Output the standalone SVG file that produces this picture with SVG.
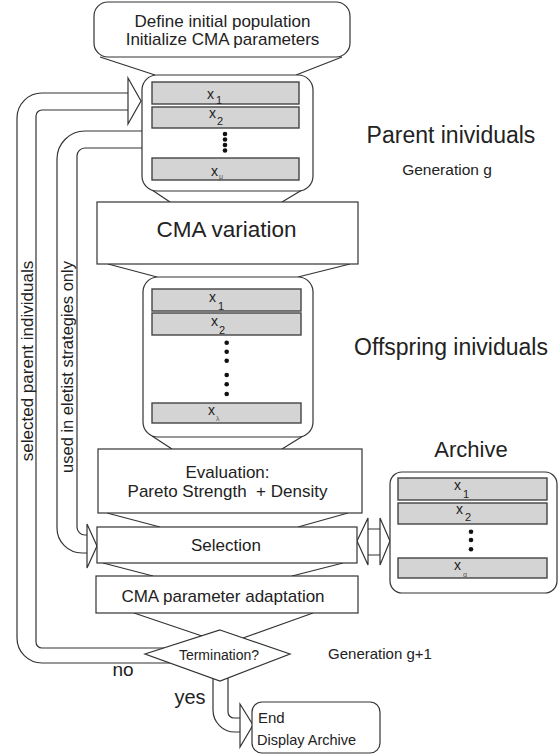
<svg xmlns="http://www.w3.org/2000/svg" width="560" height="755" viewBox="0 0 560 755">
<style>
.box{fill:#fff;stroke:#333;stroke-width:1.2}
.item{fill:#d4d4d4;stroke:#444;stroke-width:1.4}
.ln{fill:none;stroke:#333;stroke-width:1.2}
.ah{fill:#fff;stroke:#333;stroke-width:1.2}
.dot{fill:#111}
text{font-family:"Liberation Sans",Arial,sans-serif;fill:#222}
.c{text-anchor:middle}
.xs{font-size:14px}
.sub{font-size:11px}
.tiny{font-size:7px;fill:#555}
</style>
<rect width="560" height="755" fill="#fff"/>
<g id="connectors">
<path class="ln" d="M100,57 L155,75 M342,57 L296,75"/>
<path class="ln" d="M152,190 L170,202 M302,190 L282,202"/>
<path class="ln" d="M108,264 L157,277 M350,264 L298,277"/>
<path class="ln" d="M152,436 L172,449 M303,436 L282,449"/>
<path class="ln" d="M107,513 L160,527 M348,513 L298,527"/>
<path class="ln" d="M103,563 L153,576 M343,563 L292,576"/>
<path class="ln" d="M134,613 L202,636 M313,613 L243,638"/>
<path class="ln" d="M170,663 H42 A25 25 0 0 1 17,638 V118 A25 25 0 0 1 42,93 H128"/>
<path class="ln" d="M164,648 H42 A6 6 0 0 1 36,642 V116 A6 6 0 0 1 42,110 H128"/>
<polygon class="ah" points="128,78 141,101 128,124"/>
<path class="ln" d="M142,131 H85 A28 28 0 0 0 57,159 V528 A25 25 0 0 0 82,553 H87"/>
<path class="ln" d="M142,148 H85 A8 8 0 0 0 77,156 V527 A8 8 0 0 0 85,535 H87"/>
<polygon class="ah" points="87,524 97,546 87,568"/>
<path class="ln" d="M368,529 H380 M368,555 H380"/>
<polygon class="ah" points="368,518 357,541 368,565"/>
<polygon class="ah" points="380,518 390,541 380,565"/>
<path class="ln" d="M213,678.5 V710 A22 22 0 0 0 235,732 H240"/>
<path class="ln" d="M228,678 V712 A6 6 0 0 0 234,718 H240"/>
<polygon class="ah" points="240,704 253,725 240,747"/>
<text x="32.5" y="361" font-size="17" class="c" transform="rotate(-90 32.5 361)">selected parent individuals</text>
<text x="72.5" y="367" font-size="16.5" class="c" transform="rotate(-90 72.5 367)">used in eletist strategies only</text>
<text x="123" y="676" font-size="19" class="c">no</text>
<text x="190" y="704" font-size="20" class="c">yes</text>
</g>
<g id="init">
<rect class="box" x="94" y="2" width="256" height="55" rx="14"/>
<text x="222.5" y="27" font-size="17" class="c">Define initial population</text>
<text x="222.5" y="45" font-size="17" class="c">Initialize CMA parameters</text>
</g>
<g id="parents">
<rect class="box" x="142" y="75" width="171" height="116" rx="15"/>
<rect class="item" x="152" y="82" width="147" height="22"/>
<rect class="item" x="152" y="107" width="147" height="21"/>
<rect class="item" x="152" y="158" width="147" height="22"/>
<text x="207" y="99" class="xs">x</text><text x="216" y="104" class="sub">1</text>
<text x="209" y="118" class="xs">x</text><text x="217" y="125" class="sub">2</text>
<text x="211" y="176" class="xs">x</text><text x="219" y="179" class="tiny">μ</text>
<circle class="dot" cx="225" cy="134" r="2.3"/>
<circle class="dot" cx="225" cy="139.5" r="2.3"/>
<circle class="dot" cx="225" cy="145" r="2.3"/>
<circle class="dot" cx="225" cy="150.5" r="2.3"/>
</g>
<g id="parent-label">
<text x="451" y="143" font-size="23" class="c">Parent inividuals</text>
<text x="447" y="175" font-size="15.5" class="c">Generation g</text>
</g>
<g id="variation">
<rect class="box" x="97" y="202" width="261" height="62"/>
<text x="226.5" y="237" font-size="22.5" class="c">CMA variation</text>
</g>
<g id="offspring">
<rect class="box" x="143" y="277" width="170" height="160" rx="15"/>
<rect class="item" x="152" y="289" width="149" height="22"/>
<rect class="item" x="152" y="313" width="149" height="22"/>
<rect class="item" x="152" y="403" width="149" height="20"/>
<text x="209" y="302" class="xs">x</text><text x="218" y="310" class="sub">1</text>
<text x="211" y="326" class="xs">x</text><text x="219" y="334" class="sub">2</text>
<text x="208" y="415" class="xs">x</text><text x="216" y="421" class="tiny">λ</text>
<circle class="dot" cx="226.7" cy="342.7" r="2.3"/>
<circle class="dot" cx="226.7" cy="351.7" r="2.3"/>
<circle class="dot" cx="226.7" cy="360.7" r="2.3"/>
<circle class="dot" cx="226.7" cy="375" r="2.3"/>
<circle class="dot" cx="226.7" cy="384.3" r="2.3"/>
<circle class="dot" cx="226.7" cy="394" r="2.3"/>
</g>
<g id="offspring-label">
<text x="451" y="355" font-size="23" class="c">Offspring inividuals</text>
</g>
<g id="evaluation">
<rect class="box" x="98" y="449" width="264" height="64"/>
<text x="227.5" y="478" font-size="17" class="c">Evaluation:</text>
<text x="227.5" y="497" font-size="17" class="c">Pareto Strength&#160; + Density</text>
</g>
<g id="selection">
<rect class="box" x="97" y="527" width="260" height="36"/>
<text x="226" y="551" font-size="17" class="c">Selection</text>
</g>
<g id="adaptation">
<rect class="box" x="96" y="576" width="262" height="37"/>
<text x="223" y="602" font-size="17" class="c">CMA parameter adaptation</text>
</g>
<g id="archive">
<text x="471" y="457" font-size="22" class="c">Archive</text>
<rect class="box" x="390" y="472" width="167" height="121" rx="12"/>
<rect class="item" x="398" y="478" width="149" height="22"/>
<rect class="item" x="398" y="503" width="149" height="21"/>
<rect class="item" x="398" y="558" width="149" height="20"/>
<text x="454" y="490" class="xs">x</text><text x="463" y="498" class="sub">1</text>
<text x="456" y="514" class="xs">x</text><text x="465" y="521" class="sub">2</text>
<text x="454" y="570" class="xs">x</text><text x="463" y="577" class="tiny">α</text>
<circle class="dot" cx="471" cy="531.7" r="2.3"/>
<circle class="dot" cx="471" cy="540" r="2.3"/>
<circle class="dot" cx="471" cy="549.3" r="2.3"/>
</g>
<g id="termination">
<polygon class="box" points="220,630 290,654 220,681 145,654"/>
<text x="219" y="660" font-size="14" class="c">Termination?</text>
</g>
<g id="gen-label">
<text x="380" y="659" font-size="15" class="c">Generation g+1</text>
</g>
<g id="end">
<rect class="box" x="252" y="702" width="128" height="51" rx="10"/>
<text x="258" y="723" font-size="15">End</text>
<text x="257" y="745" font-size="14.5">Display Archive</text>
</g>
</svg>
